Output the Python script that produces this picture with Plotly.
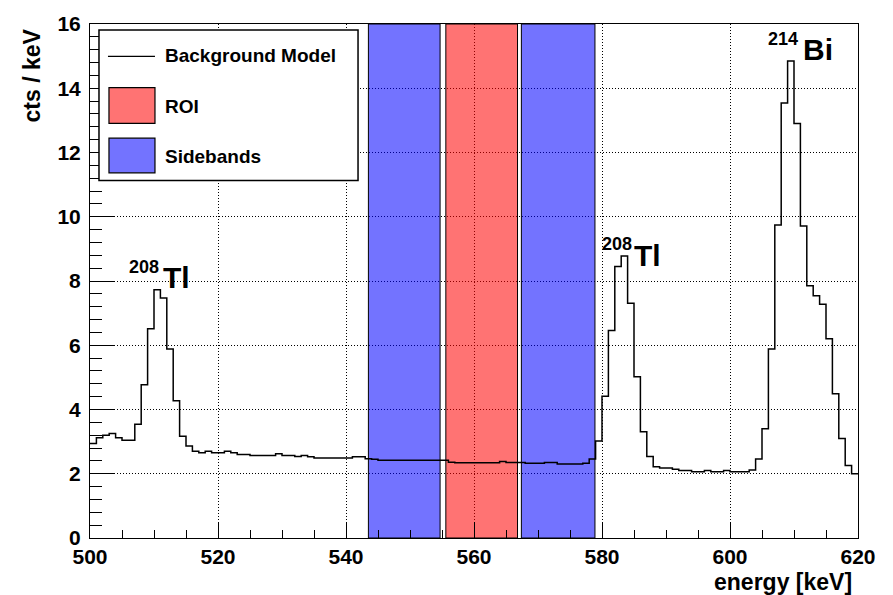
import plotly.graph_objects as go

# Energy histogram: 1 keV bins from 500 to 620 keV
BIN_START = 500
BIN_WIDTH = 1
COUNTS = [
    2.94, 3.12, 3.20, 3.25, 3.12, 3.04, 3.04, 3.54, 4.77, 6.51,   # 500-509
    7.73, 7.47, 5.88, 4.27, 3.17, 2.86, 2.70, 2.65, 2.70, 2.65,   # 510-519
    2.65, 2.70, 2.65, 2.60, 2.60, 2.57, 2.57, 2.57, 2.57, 2.62,   # 520-529
    2.57, 2.57, 2.54, 2.57, 2.53, 2.49, 2.49, 2.49, 2.49, 2.49,   # 530-539
    2.49, 2.53, 2.53, 2.47, 2.45, 2.42, 2.42, 2.42, 2.42, 2.42,   # 540-549
    2.42, 2.42, 2.42, 2.42, 2.42, 2.42, 2.36, 2.34, 2.34, 2.34,   # 550-559
    2.34, 2.34, 2.34, 2.34, 2.38, 2.35, 2.35, 2.35, 2.33, 2.33,   # 560-569
    2.33, 2.35, 2.35, 2.30, 2.30, 2.30, 2.30, 2.33, 2.46, 3.02,   # 570-579
    4.41, 6.46, 8.45, 8.78, 7.31, 5.02, 3.31, 2.54, 2.22, 2.18,   # 580-589
    2.18, 2.14, 2.10, 2.10, 2.06, 2.06, 2.10, 2.06, 2.06, 2.10,   # 590-599
    2.06, 2.06, 2.06, 2.12, 2.46, 3.40, 5.88, 9.74, 13.54, 14.85, # 600-609
    12.90, 9.71, 7.85, 7.54, 7.28, 6.20, 4.49, 3.10, 2.26, 2.00,  # 610-619
]

# Energy windows [keV]
ROI_RANGES = [(555.6, 566.8)]
SIDEBAND_RANGES = [(543.5, 554.7), (567.4, 578.9)]

X_RANGE = [500, 620]
Y_RANGE = [0, 16]

FONT = "Liberation Sans"
RED_FILL = "rgba(255,0,0,0.55)"
BLUE_FILL = "rgba(0,0,255,0.55)"

# step outline of the histogram
edges = [BIN_START + i * BIN_WIDTH for i in range(len(COUNTS) + 1)]
step_x = edges
step_y = COUNTS + [COUNTS[-1]]

fig = go.Figure()

fig.add_trace(go.Scatter(
    x=step_x, y=step_y, mode="lines",
    line=dict(shape="hv", color="black", width=1.5),
    name="Background Model", showlegend=False,
))


def band_trace(ranges, color, name):
    return go.Bar(
        x=[(lo + hi) / 2 for lo, hi in ranges],
        y=[Y_RANGE[1]] * len(ranges),
        width=[hi - lo for lo, hi in ranges],
        base=0,
        marker=dict(color=color, line=dict(color="black", width=1)),
        name=name, showlegend=False, hoverinfo="skip",
    )


fig.add_trace(band_trace(SIDEBAND_RANGES, BLUE_FILL, "Sidebands"))
fig.add_trace(band_trace(ROI_RANGES, RED_FILL, "ROI"))

tickfont = dict(family=FONT, size=21, color="black", weight="bold")
common_axis = dict(
    ticks="inside", tickcolor="black", tickwidth=1,
    showline=True, linecolor="black", linewidth=1, mirror=True,
    showgrid=True, gridcolor="black", gridwidth=1, griddash="1px,2px",
    zeroline=False, tickfont=tickfont,
)

fig.update_xaxes(
    range=X_RANGE, tick0=500, dtick=20, ticklen=16,
    minor=dict(dtick=5, ticklen=8, ticks="inside", tickcolor="black", showgrid=False),
    ticklabelstandoff=0,
    **common_axis,
)
fig.update_yaxes(
    range=Y_RANGE, tick0=0, dtick=2, ticklen=24,
    minor=dict(dtick=0.4, ticklen=12, ticks="inside", tickcolor="black", showgrid=False),
    ticklabelstandoff=4,
    **common_axis,
)

annotations = []

# axis titles
annotations.append(dict(
    text="energy [keV]", xref="paper", yref="paper", x=0.9017, y=-0.085,
    xanchor="center", yanchor="middle", showarrow=False,
    font=dict(family=FONT, size=23, color="black", weight="bold"),
))
annotations.append(dict(
    text="cts / keV", xref="paper", yref="paper", x=-0.0749, y=0.9008,
    xanchor="center", yanchor="middle", textangle=-90, showarrow=False,
    font=dict(family=FONT, size=23, color="black", weight="bold"),
))

# isotope labels
def isotope(mass, symbol, mx, my, sx, sy):
    annotations.append(dict(
        text=mass, x=mx, y=my, xref="x", yref="y", showarrow=False,
        xanchor="center", yanchor="middle",
        font=dict(family=FONT, size=18, color="black", weight="bold"),
    ))
    annotations.append(dict(
        text=symbol, x=sx, y=sy, xref="x", yref="y", showarrow=False,
        xanchor="center", yanchor="middle",
        font=dict(family=FONT, size=30, color="black", weight="bold"),
    ))


isotope("208", "Tl", 508.36, 8.45, 513.44, 8.12)
isotope("208", "Tl", 582.34, 9.15, 587.1, 8.79)
isotope("214", "Bi", 608.28, 15.52, 613.75, 15.22)

# legend box
shapes = [
    dict(type="rect", xref="paper", yref="paper", x0=0.0117, x1=0.349, y0=0.6956, y1=0.9884,
         fillcolor="white", line=dict(color="black", width=1.5)),
    dict(type="line", xref="paper", yref="paper", x0=0.0234, x1=0.0846, y0=0.937, y1=0.937,
         line=dict(color="black", width=1.2)),
    dict(type="rect", xref="paper", yref="paper", x0=0.0247, x1=0.0846, y0=0.8067, y1=0.8761,
         fillcolor=RED_FILL, line=dict(color="black", width=1.2)),
    dict(type="rect", xref="paper", yref="paper", x0=0.0247, x1=0.0846, y0=0.7104, y1=0.7778,
         fillcolor=BLUE_FILL, line=dict(color="black", width=1.2)),
]
for label, ly in [("Background Model", 0.9393), ("ROI", 0.8401), ("Sidebands", 0.7428)]:
    annotations.append(dict(
        text=label, xref="paper", yref="paper", x=0.0955, y=ly,
        xanchor="left", yanchor="middle", showarrow=False,
        font=dict(family=FONT, size=19, color="black", weight="bold"),
    ))

fig.update_layout(
    width=893, height=595,
    margin=dict(l=90, r=35, t=19, b=57),
    paper_bgcolor="white", plot_bgcolor="white",
    barmode="overlay", showlegend=False,
    annotations=annotations, shapes=shapes,
)

fig.write_html("out.html")
